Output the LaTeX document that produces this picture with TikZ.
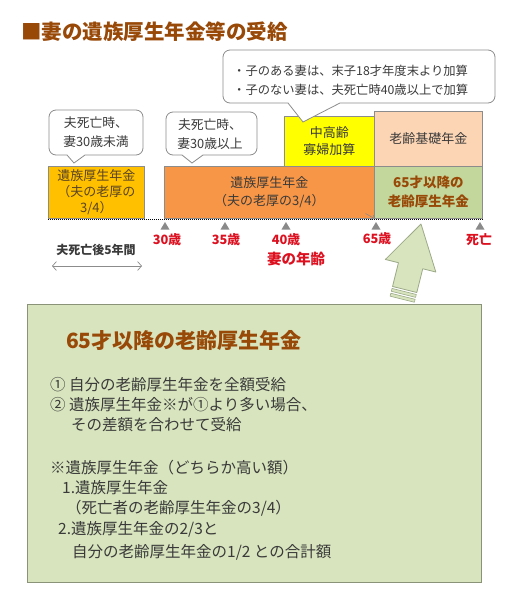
\documentclass[tikz,border=0pt]{standalone}
\usepackage{fontspec}
\setmainfont{Noto Sans CJK JP}
\usetikzlibrary{arrows.meta}
\definecolor{brownT}{HTML}{984807}
\definecolor{goldF}{HTML}{FFC000}
\definecolor{orangeF}{HTML}{F79646}
\definecolor{greenF}{HTML}{C3D69B}
\definecolor{yellowF}{HTML}{FFFF00}
\definecolor{peachF}{HTML}{FCD5B5}
\definecolor{paleG}{HTML}{D7E4BD}
\definecolor{redT}{HTML}{DD1020}
\definecolor{txt}{HTML}{3A3A3A}
\definecolor{goldT}{HTML}{5A4420}
\definecolor{lineG}{HTML}{8C8C8C}
\definecolor{tickC}{HTML}{8A8A8A}
\definecolor{bigB}{HTML}{8A9378}
\definecolor{arrB}{HTML}{9CAA88}
\tikzset{
  fs/.style 2 args={font=\fontsize{#1}{#2}\selectfont},
  bar/.style={draw=lineG, line width=0.7pt, anchor=north west, inner sep=0pt, align=center, text=txt},
  coline/.style={draw=lineG, fill=white, line width=0.8pt},
  cotext/.style={text=txt, align=center, inner sep=0pt, fs={12.8}{19}},
  agelab/.style={text=redT, inner sep=0pt, font=\fontsize{12.8}{14}\selectfont\bfseries},
  body/.style={text=txt, anchor=west, inner sep=0pt, fs={15.5}{18}},
  arrst/.style={draw=arrB, fill=paleG, line width=0.8pt, line join=round},
}
\newcommand\mycallout[8]{%
  \filldraw[coline] ({#1+7},#2) -- ({#3-7},#2) arc[start angle=-90,end angle=0,radius=7]
   -- (#3,{#4-7}) arc[start angle=0,end angle=90,radius=7]
   -- (#6,#4) -- (#7,#8) -- (#5,#4)
   -- ({#1+7},#4) arc[start angle=90,end angle=180,radius=7]
   -- (#1,{#2+7}) arc[start angle=180,end angle=270,radius=7] -- cycle;}
\newcommand\agetick[1]{\fill[tickC] (#1,222) -- ({#1+4.5},229.5) -- ({#1-4.5},229.5) -- cycle;}
\begin{document}
\begin{tikzpicture}[x=1pt,y=-1pt]
\useasboundingbox[fill=white] (0,0) rectangle (513,606);

% title
\node[anchor=west, inner sep=0pt, text=brownT, font=\fontsize{20.5}{24}\selectfont\bfseries] (title) at (21,32) {■妻の遺族厚生年金等の受給};

% bars
\node[bar, fill=yellowF, minimum width=90, minimum height=50, fs={13}{17}] (yel) at (284,116) {中高齢\\寡婦加算};
\node[bar, fill=peachF, minimum width=108, minimum height=55, fs={13}{17}] (peach) at (374,111) {老齢基礎年金};
\node[bar, fill=goldF, minimum width=96, minimum height=52, fs={13}{16}, text=goldT] (gold) at (48,166) {遺族厚生年金\\（夫の老厚の\\3/4）};
\node[bar, fill=orangeF, minimum width=210, minimum height=52, fs={13}{17.5}] (orng) at (164,166) {遺族厚生年金\\（夫の老厚の3/4）};
\node[bar, fill=greenF, minimum width=108, minimum height=52, text=brownT, font=\fontsize{13.5}{19}\selectfont\bfseries] (grn) at (374,166) {65才以降の\\老齢厚生年金};

% callouts
\mycallout{223}{50}{495}{103}{288}{340}{303}{122}
\node[text=txt, anchor=west, inner sep=0pt, align=left, fs={12.3}{19}] (c3) at (233,80.5) {・子のある妻は、末子18才年度末より加算\\・子のない妻は、夫死亡時40歳以上で加算};
\mycallout{49}{110}{143}{155}{67}{85}{74}{163}
\node[cotext] (c1) at (96,132.5) {夫死亡時、\\妻30歳未満};
\mycallout{166}{112}{257}{155}{182}{203}{192}{163}
\node[cotext] (c2) at (210,134) {夫死亡時、\\妻30歳以上};

% small gray arrow at corner
\coordinate (sa) at (365.5,213.5);
\draw[lineG, line width=0.6pt, -{Straight Barb[length=2.5pt,width=5pt]}] (sa) -- (orng.south east);

% dotted timeline
\coordinate (dl) at (48,219.5);
\coordinate (dr) at (483,219.5);
\draw[black, line width=0.8pt, dash pattern=on 1pt off 1pt] (dl) -- (dr);

\agetick{165}\agetick{225}\agetick{286}\agetick{376}\agetick{480}
\node[agelab] (a30) at (167,240) {30歳};
\node[agelab] (a35) at (226,240) {35歳};
\node[agelab] (a40) at (286,240) {40歳};
\node[agelab] (a65) at (377,239) {65歳};
\node[agelab] (ad) at (479,240) {死亡};
\node[text=redT, inner sep=0pt, font=\fontsize{14.5}{16}\selectfont\bfseries] (age) at (296,259) {妻の年齢};
\node[text=txt, inner sep=0pt, font=\fontsize{12}{14}\selectfont\bfseries] (five) at (96,250) {夫死亡後5年間};
\coordinate (fl) at (52,266);
\coordinate (fr) at (142,266);
\draw[lineG, line width=0.7pt, {Straight Barb[length=4pt,width=9pt]}-{Straight Barb[length=4pt,width=9pt]}] (fl) -- (fr);

% big box
\node[draw=bigB, fill=paleG, line width=0.8pt, minimum width=454, minimum height=278, anchor=north west, inner sep=0pt] (big) at (27,304) {};

% big arrow
\begin{scope}[shift={(421,224)}, rotate=-14]
  \filldraw[arrst] (0,0) -- (26,43) -- (12.5,43) -- (12.5,67.5) -- (-12.5,67.5) -- (-12.5,43) -- (-26,43) -- cycle;
  \filldraw[arrst, line width=0.6pt] (-12.5,69.5) rectangle (12.5,72.5);
  \filldraw[arrst, line width=0.6pt] (-12.5,74.5) rectangle (12.5,77.5);
\end{scope}

\node[anchor=west, inner sep=0pt, text=brownT, font=\fontsize{21}{24}\selectfont\bfseries] (bt) at (66,340) {65才以降の老齢厚生年金};
\node[body] (l1) at (50,385) {① 自分の老齢厚生年金を全額受給};
\node[body] (l2) at (50,405) {② 遺族厚生年金※が①より多い場合、};
\node[body] (l3) at (71,425) {その差額を合わせて受給};
\node[body] (l4) at (50,468) {※遺族厚生年金（どちらか高い額）};
\node[body] (l5) at (62,488) {1.遺族厚生年金};
\node[body] (l6) at (66,508) {（死亡者の老齢厚生年金の3/4）};
\node[body] (l7) at (58,529) {2.遺族厚生年金の2/3と};
\node[body] (l8) at (72,552) {自分の老齢厚生年金の1/2 との合計額};
\end{tikzpicture}
\end{document}
